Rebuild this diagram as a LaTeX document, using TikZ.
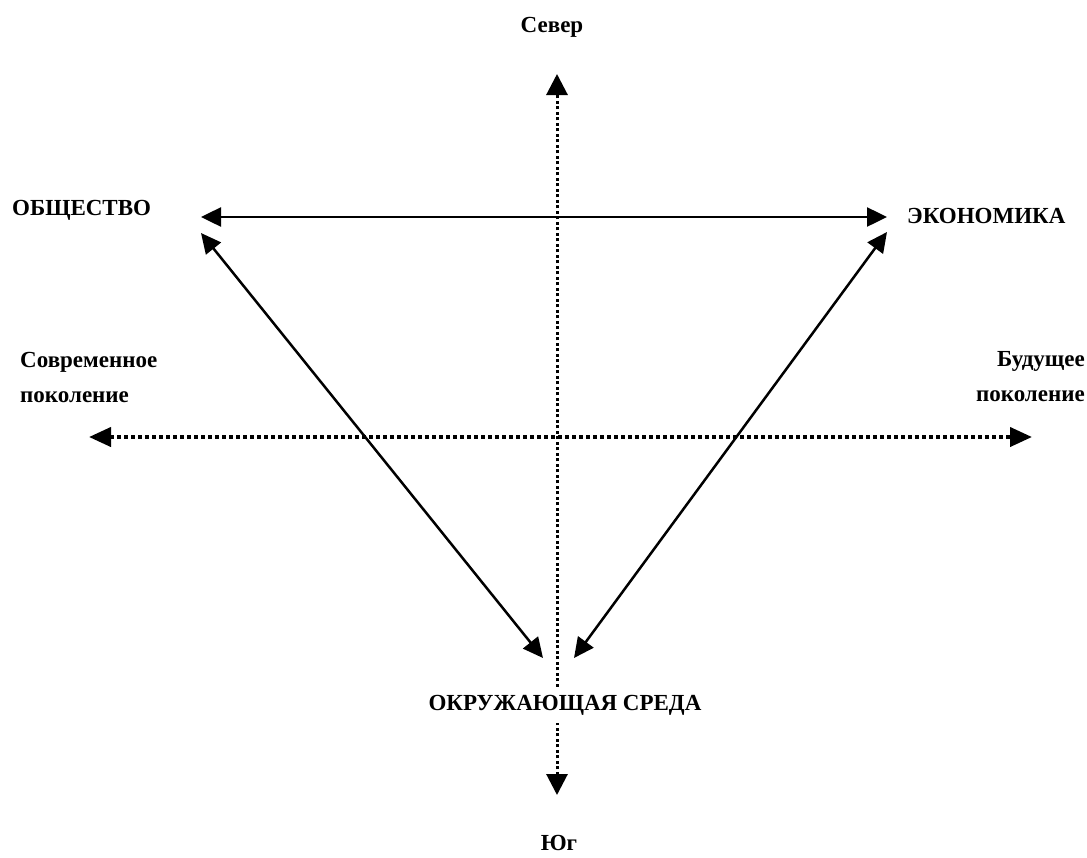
\documentclass[tikz,border=0pt]{standalone}
\usepackage{fontspec}
\setmainfont{Liberation Serif}
\usetikzlibrary{arrows.meta}
\begin{document}
\begin{tikzpicture}[x=1pt,y=-1pt,
  lbl/.style={font=\fontsize{23}{35}\selectfont\bfseries, inner sep=0pt},
  solidarrow/.style={line width=2.5pt, {Triangle[length=20pt,width=19pt]}-{Triangle[length=20pt,width=19pt]}},
  vdots/.style={line width=3pt, dash pattern=on 3pt off 2.5pt, {Triangle[length=21pt,width=21pt]}-{Triangle[length=21pt,width=21pt]}},
  hdots/.style={line width=4pt, dash pattern=on 4pt off 3pt, {Triangle[length=22pt,width=19pt]}-{Triangle[length=22pt,width=19pt]}}]
\useasboundingbox (0,0) rectangle (1087,857);
\fill[white] (0,0) rectangle (1087,857);
% free ends of connectors
\coordinate (ntip) at (557,74);
\coordinate (stip) at (557,795);
\coordinate (wtip) at (89,437);
\coordinate (etip) at (1032,437);
\coordinate (so) at (201,217);
\coordinate (ec) at (887,217);
\coordinate (sod) at (201,233);
\coordinate (ecd) at (887,232);
\coordinate (envl) at (543,658);
\coordinate (envr) at (574,658);
% connectors
\draw[vdots] (stip) -- (ntip);
\draw[hdots] (wtip) -- (etip);
\draw[solidarrow] (so) -- (ec);
\draw[solidarrow] (sod) -- (envl);
\draw[solidarrow] (ecd) -- (envr);
% labels
\node[lbl, anchor=base] (north) at (552,32) {Север};
\node[lbl, anchor=base] (south) at (559,850) {Юг};
\node[lbl, anchor=base west] (society) at (12,215) {ОБЩЕСТВО};
\node[lbl, anchor=base west] (economy) at (907,223) {ЭКОНОМИКА};
\node[lbl, anchor=west, align=left] (present) at (20,377) {Современное\\поколение};
\node[lbl, anchor=east, align=right] (future) at (1085,377) {Будущее\\поколение};
\node[lbl, anchor=base, fill=white, inner xsep=4pt, inner ysep=8pt] (env) at (565,710) {ОКРУЖАЮЩАЯ СРЕДА};
\end{tikzpicture}
\end{document}
